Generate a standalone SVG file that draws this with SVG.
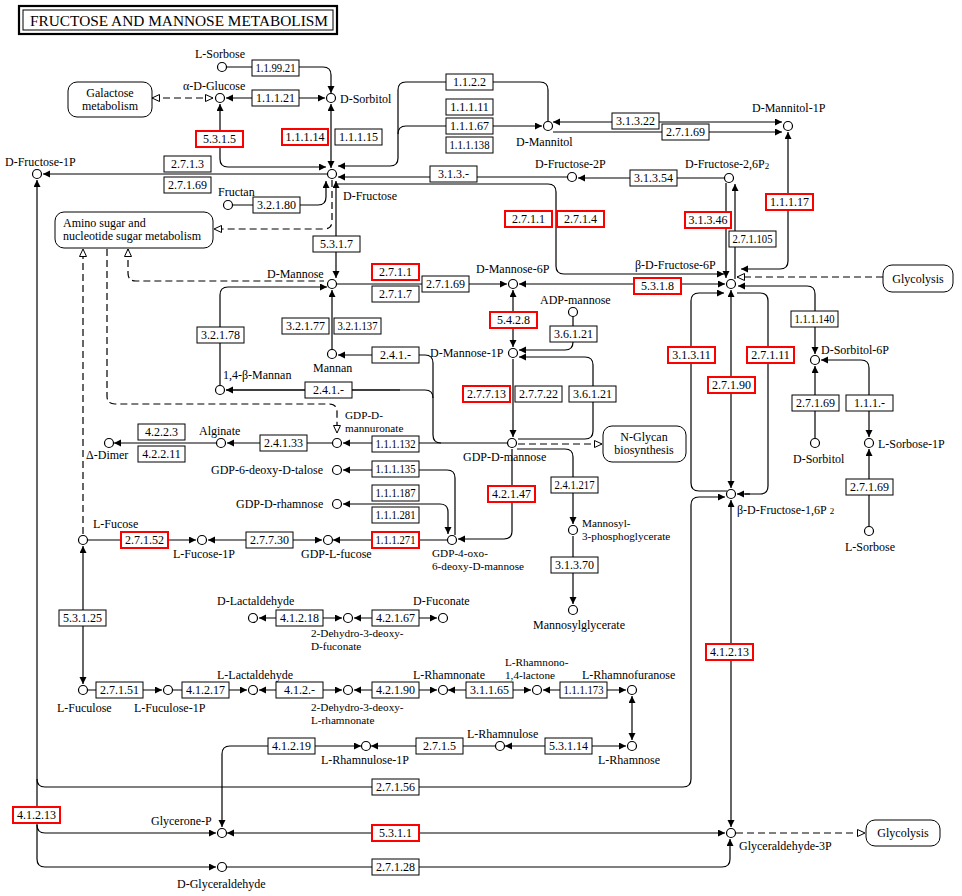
<svg xmlns="http://www.w3.org/2000/svg" width="962" height="896" viewBox="0 0 962 896">
<defs>
<marker id="a" markerWidth="8" markerHeight="8" refX="7" refY="3.5" orient="auto-start-reverse" markerUnits="userSpaceOnUse"><path d="M0,0 L7,3.5 L0,7 z" fill="#000"/></marker>
<marker id="h" markerWidth="10" markerHeight="9" refX="8" refY="4" orient="auto-start-reverse" markerUnits="userSpaceOnUse"><path d="M0.5,0.5 L8,4 L0.5,7.5 z" fill="#fff" stroke="#000" stroke-width="1"/></marker>
<style>
text{font-family:"Liberation Serif","Times New Roman",serif;font-size:12px;fill:#000}
.ml{font-size:11.2px}
.e rect{fill:#fff;stroke:#000;stroke-width:1}
.e.r rect{stroke:#f00;stroke-width:2}
.e text{text-anchor:middle}
.c circle{fill:#fff;stroke:#000;stroke-width:1.2}
.m rect{fill:#fff;stroke:#000;stroke-width:1}
.m text{text-anchor:middle}
#conn path{fill:none;stroke:#000;stroke-width:1.2}
#conn .d{stroke-dasharray:7,4}
.b{marker-start:url(#a);marker-end:url(#a)}
.f{marker-end:url(#a)}
.s{marker-start:url(#a)}
.hf{marker-end:url(#h)}
.hb{marker-start:url(#h);marker-end:url(#h)}
.hs{marker-start:url(#h)}
.sub{font-size:9px}
</style>
</defs>
<rect width="962" height="896" fill="#fff"/>
<g id="title">
<rect x="19" y="6" width="318" height="28" fill="none" stroke="#000" stroke-width="2.2"/>
<rect x="23" y="10" width="310" height="20" fill="none" stroke="#000" stroke-width="1"/>
<text x="30" y="26" style="font-size:15px" textLength="298" lengthAdjust="spacingAndGlyphs">FRUCTOSE AND MANNOSE METABOLISM</text>
</g>

<g id="conn">
<path class="f" d="M226.5,67 H323 Q331,67 331,75 V93"/>
<path class="b" d="M226,98 H325"/>
<path class="d hb" d="M152,98 H213"/>
<path class="b" d="M220,104 V159 Q220,167 228,167 H326"/>
<path class="f" d="M327,174 H43"/>
<path class="b" d="M331,104 V168"/>
<path class="s f" d="M37,180 V859 Q37,867 45,867 H216"/>
<path class="f" d="M37,825 Q37,833 45,833 H216"/>
<path class="f" d="M37,779 Q37,787 45,787 H683 Q691,787 691,779 V505 Q691,497 699,497 H725"/>
<path class="b" d="M227,833 H725"/>
<path class="f" d="M227,867 H722 Q730,867 730,859 V839"/>
<path class="b" d="M731,500 V827"/>
<path class="d hf" d="M736,833 H865"/>
<path class="b" d="M361,746 H230 Q222,746 222,754 V827"/>
<path class="f" d="M495,746 H371"/>
<path class="b" d="M505,746 H626"/>
<path class="b" d="M632,696 V740"/>
<path class="f" d="M88,690 H162"/>
<path class="f" d="M173,690 H247"/>
<path class="b" d="M259,690 H342"/>
<path class="b" d="M354,690 H437"/>
<path class="b" d="M448,690 H531"/>
<path class="b" d="M543,690 H626"/>
<path class="b" d="M259,618 H342"/>
<path class="b" d="M354,618 H437"/>
<path class="b" d="M83,546 V684"/>
<path class="d hf" d="M83,534 V249"/>
<path class="f" d="M88,540 H196"/>
<path class="b" d="M208,540 H322"/>
<path class="f" d="M447,540 H333"/>
<path class="f" d="M512,449 V531 Q512,539 504,539 H458"/>
<path class="f" d="M455,535 V478 Q455,470 447,470 H343"/>
<path class="b" d="M343,504 H440 Q448,504 448,512 V534"/>
<path class="f" d="M507,443 H343"/>
<path class="f" d="M441,443 Q433,443 433,435 V363 Q433,355 425,355 H338"/>
<path d="M433,398 Q433,390 425,390 H226"/>
<path class="f" d="M400,390 H226"/>
<path class="f" d="M332,443 H227"/>
<path class="f" d="M216,443 H114"/>
<path class="f" d="M332,349 V290"/>
<path class="f" d="M220,385 V295 Q220,287 228,287 H327"/>
<path class="d hs" d="M128,249 V273 Q128,281 136,281 H324"/>
<path class="d hf" d="M107,249 V396 Q107,404 115,404 H329 Q337,404 337,412 V433"/>
<path class="d hf" d="M332,180 V221 Q332,229 324,229 H214"/>
<path class="f" d="M233,205 H318 Q326,205 326,197 V181"/>
<path class="b" d="M336,181 V278"/>
<path class="f" d="M548,121 V90 Q548,82 540,82 H406 Q398,82 398,90 V158 Q398,166 390,166 H338"/>
<path class="f" d="M398,134 Q398,126 406,126 H542"/>
<path class="b" d="M553,122 H782"/>
<path class="f" d="M553,132 H782"/>
<path class="f" d="M567,177 H338"/>
<path class="f" d="M724,178 H578"/>
<path class="f" d="M337,184 H548 Q556,184 556,192 V266 Q556,274 564,274 H724"/>
<path class="b" d="M519,284 H725"/>
<path class="f" d="M726,183 V278"/>
<path class="f" d="M735,279 V184"/>
<path class="b" d="M741,269 H780 Q788,269 788,261 V132"/>
<path class="d hf" d="M883,277 H737"/>
<path class="b" d="M738,286 H807 Q815,286 815,294 V354"/>
<path class="f" d="M727,491 H699 Q691,491 691,483 V301 Q691,293 699,293 H724"/>
<path d="M737,293 H760 Q768,293 768,301 V486 Q768,494 760,494 H745"/>
<path class="f" d="M750,494 H737"/>
<path class="b" d="M731,290 V488"/>
<path class="f" d="M815,438 V366"/>
<path class="b" d="M821,360 H861 Q869,360 869,368 V437"/>
<path class="f" d="M869,526 V449"/>
<path class="f" d="M337,284 H507"/>
<path class="b" d="M513,290 V347"/>
<path class="f" d="M573,317 V342 Q573,350 565,350 H519"/>
<path class="f" d="M518,439 H585 Q593,439 593,431 V365 Q593,357 585,357 H519"/>
<path class="f" d="M513,359 V437"/>
<path class="d hf" d="M518,444 H602"/>
<path class="f" d="M517,449 H565 Q573,449 573,457 V524"/>
<path class="f" d="M573,536 V604"/>
</g>

<g id="maps">
<g id="map_galactose" class="m"><rect x="68" y="82" width="84" height="35" rx="9"/><text x="110" y="97">Galactose</text><text x="110" y="110">metabolism</text></g>
<g id="map_aminosugar" class="m"><rect x="55" y="212" width="158" height="36" rx="9"/><text x="63" y="227" style="text-anchor:start">Amino sugar and</text><text x="63" y="240" style="text-anchor:start">nucleotide sugar metabolism</text></g>
<g id="map_nglycan" class="m"><rect x="603" y="426" width="83" height="36" rx="9"/><text x="644" y="441">N-Glycan</text><text x="644" y="454">biosynthesis</text></g>
<g id="map_glycolysis1" class="m"><rect x="883" y="265" width="70" height="27" rx="9"/><text x="918" y="283">Glycolysis</text></g>
<g id="map_glycolysis2" class="m"><rect x="866" y="820" width="74" height="26" rx="9"/><text x="903" y="837">Glycolysis</text></g>
</g>

<g id="enzymes">
<g class="e"><rect x="252" y="60" width="47" height="16"/><text x="275.5" y="72" textLength="40" lengthAdjust="spacingAndGlyphs">1.1.99.21</text></g>
<g class="e"><rect x="252" y="90" width="47" height="16"/><text x="275.5" y="102">1.1.1.21</text></g>
<g class="e r"><rect x="196" y="131" width="47" height="16"/><text x="219.5" y="143">5.3.1.5</text></g>
<g class="e r"><rect x="282" y="129" width="46" height="16"/><text x="305" y="141">1.1.1.14</text></g>
<g class="e"><rect x="335" y="129" width="47" height="16"/><text x="358.5" y="141">1.1.1.15</text></g>
<g class="e"><rect x="164" y="156" width="47" height="16"/><text x="187.5" y="168">2.7.1.3</text></g>
<g class="e"><rect x="164" y="177" width="47" height="16"/><text x="187.5" y="189">2.7.1.69</text></g>
<g class="e"><rect x="253" y="197" width="47" height="16"/><text x="276.5" y="209">3.2.1.80</text></g>
<g class="e"><rect x="313" y="236" width="47" height="16"/><text x="336.5" y="248">5.3.1.7</text></g>
<g class="e"><rect x="446" y="74" width="47" height="16"/><text x="469.5" y="86">1.1.2.2</text></g>
<g class="e"><rect x="446" y="99" width="47" height="16"/><text x="469.5" y="111">1.1.1.11</text></g>
<g class="e"><rect x="446" y="118" width="47" height="16"/><text x="469.5" y="130">1.1.1.67</text></g>
<g class="e"><rect x="446" y="137" width="47" height="16"/><text x="469.5" y="149" textLength="40" lengthAdjust="spacingAndGlyphs">1.1.1.138</text></g>
<g class="e"><rect x="612" y="113" width="47" height="16"/><text x="635.5" y="125">3.1.3.22</text></g>
<g class="e"><rect x="662" y="124" width="47" height="16"/><text x="685.5" y="136">2.7.1.69</text></g>
<g class="e"><rect x="430" y="166" width="47" height="16"/><text x="453.5" y="178">3.1.3.-</text></g>
<g class="e"><rect x="630" y="170" width="47" height="16"/><text x="653.5" y="182">3.1.3.54</text></g>
<g class="e r"><rect x="505" y="211" width="47" height="16"/><text x="528.5" y="223">2.7.1.1</text></g>
<g class="e r"><rect x="557" y="211" width="47" height="16"/><text x="580.5" y="223">2.7.1.4</text></g>
<g class="e r"><rect x="685" y="212" width="46" height="16"/><text x="708" y="224">3.1.3.46</text></g>
<g class="e"><rect x="729" y="231" width="47" height="16"/><text x="752.5" y="243" textLength="40" lengthAdjust="spacingAndGlyphs">2.7.1.105</text></g>
<g class="e r"><rect x="766" y="194" width="47" height="16"/><text x="789.5" y="206">1.1.1.17</text></g>
<g class="e r"><rect x="372" y="264" width="47" height="16"/><text x="395.5" y="276">2.7.1.1</text></g>
<g class="e"><rect x="372" y="286" width="47" height="16"/><text x="395.5" y="298">2.7.1.7</text></g>
<g class="e"><rect x="422" y="276" width="47" height="16"/><text x="445.5" y="288">2.7.1.69</text></g>
<g class="e r"><rect x="634" y="278" width="47" height="16"/><text x="657.5" y="290">5.3.1.8</text></g>
<g class="e r"><rect x="490" y="312" width="47" height="16"/><text x="513.5" y="324">5.4.2.8</text></g>
<g class="e"><rect x="550" y="326" width="47" height="16"/><text x="573.5" y="338">3.6.1.21</text></g>
<g class="e"><rect x="197" y="327" width="47" height="16"/><text x="220.5" y="339">3.2.1.78</text></g>
<g class="e"><rect x="282" y="318" width="47" height="16"/><text x="305.5" y="330">3.2.1.77</text></g>
<g class="e"><rect x="334" y="318" width="47" height="16"/><text x="357.5" y="330" textLength="40" lengthAdjust="spacingAndGlyphs">3.2.1.137</text></g>
<g class="e"><rect x="372" y="347" width="47" height="16"/><text x="395.5" y="359">2.4.1.-</text></g>
<g class="e"><rect x="305" y="382" width="47" height="16"/><text x="328.5" y="394">2.4.1.-</text></g>
<g class="e r"><rect x="463" y="386" width="47" height="16"/><text x="486.5" y="398">2.7.7.13</text></g>
<g class="e"><rect x="515" y="386" width="47" height="16"/><text x="538.5" y="398">2.7.7.22</text></g>
<g class="e"><rect x="569" y="386" width="47" height="16"/><text x="592.5" y="398">3.6.1.21</text></g>
<g class="e r"><rect x="668" y="347" width="47" height="16"/><text x="691.5" y="359">3.1.3.11</text></g>
<g class="e r"><rect x="747" y="347" width="47" height="16"/><text x="770.5" y="359">2.7.1.11</text></g>
<g class="e r"><rect x="708" y="377" width="47" height="16"/><text x="731.5" y="389">2.7.1.90</text></g>
<g class="e"><rect x="791" y="311" width="47" height="16"/><text x="814.5" y="323" textLength="40" lengthAdjust="spacingAndGlyphs">1.1.1.140</text></g>
<g class="e"><rect x="792" y="395" width="47" height="16"/><text x="815.5" y="407">2.7.1.69</text></g>
<g class="e"><rect x="846" y="395" width="47" height="16"/><text x="869.5" y="407">1.1.1.-</text></g>
<g class="e"><rect x="846" y="479" width="47" height="16"/><text x="869.5" y="491">2.7.1.69</text></g>
<g class="e"><rect x="138" y="424" width="47" height="16"/><text x="161.5" y="436">4.2.2.3</text></g>
<g class="e"><rect x="138" y="446" width="47" height="16"/><text x="161.5" y="458">4.2.2.11</text></g>
<g class="e"><rect x="260" y="435" width="47" height="16"/><text x="283.5" y="447">2.4.1.33</text></g>
<g class="e"><rect x="372" y="436" width="47" height="16"/><text x="395.5" y="448" textLength="40" lengthAdjust="spacingAndGlyphs">1.1.1.132</text></g>
<g class="e"><rect x="372" y="461" width="47" height="16"/><text x="395.5" y="473" textLength="40" lengthAdjust="spacingAndGlyphs">1.1.1.135</text></g>
<g class="e"><rect x="372" y="485" width="47" height="16"/><text x="395.5" y="497" textLength="40" lengthAdjust="spacingAndGlyphs">1.1.1.187</text></g>
<g class="e"><rect x="372" y="507" width="47" height="16"/><text x="395.5" y="519" textLength="40" lengthAdjust="spacingAndGlyphs">1.1.1.281</text></g>
<g class="e r"><rect x="372" y="532" width="47" height="16"/><text x="395.5" y="544" textLength="40" lengthAdjust="spacingAndGlyphs">1.1.1.271</text></g>
<g class="e r"><rect x="121" y="532" width="47" height="16"/><text x="144.5" y="544">2.7.1.52</text></g>
<g class="e"><rect x="246" y="532" width="47" height="16"/><text x="269.5" y="544">2.7.7.30</text></g>
<g class="e r"><rect x="488" y="486" width="47" height="16"/><text x="511.5" y="498">4.2.1.47</text></g>
<g class="e"><rect x="551" y="477" width="47" height="16"/><text x="574.5" y="489" textLength="40" lengthAdjust="spacingAndGlyphs">2.4.1.217</text></g>
<g class="e"><rect x="551" y="557" width="47" height="16"/><text x="574.5" y="569">3.1.3.70</text></g>
<g class="e"><rect x="59" y="610" width="47" height="16"/><text x="82.5" y="622">5.3.1.25</text></g>
<g class="e"><rect x="276" y="610" width="47" height="16"/><text x="299.5" y="622">4.1.2.18</text></g>
<g class="e"><rect x="372" y="610" width="47" height="16"/><text x="395.5" y="622">4.2.1.67</text></g>
<g class="e"><rect x="96" y="682" width="47" height="16"/><text x="119.5" y="694">2.7.1.51</text></g>
<g class="e"><rect x="182" y="682" width="47" height="16"/><text x="205.5" y="694">4.1.2.17</text></g>
<g class="e"><rect x="276" y="682" width="47" height="16"/><text x="299.5" y="694">4.1.2.-</text></g>
<g class="e"><rect x="372" y="682" width="47" height="16"/><text x="395.5" y="694">4.2.1.90</text></g>
<g class="e"><rect x="466" y="682" width="47" height="16"/><text x="489.5" y="694">3.1.1.65</text></g>
<g class="e"><rect x="560" y="682" width="47" height="16"/><text x="583.5" y="694" textLength="40" lengthAdjust="spacingAndGlyphs">1.1.1.173</text></g>
<g class="e"><rect x="268" y="738" width="47" height="16"/><text x="291.5" y="750">4.1.2.19</text></g>
<g class="e"><rect x="416" y="738" width="47" height="16"/><text x="439.5" y="750">2.7.1.5</text></g>
<g class="e"><rect x="545" y="738" width="47" height="16"/><text x="568.5" y="750">5.3.1.14</text></g>
<g class="e"><rect x="372" y="779" width="47" height="16"/><text x="395.5" y="791">2.7.1.56</text></g>
<g class="e r"><rect x="13" y="807" width="47" height="16"/><text x="36.5" y="819">4.1.2.13</text></g>
<g class="e r"><rect x="372" y="825" width="47" height="16"/><text x="395.5" y="837">5.3.1.1</text></g>
<g class="e"><rect x="372" y="859" width="47" height="16"/><text x="395.5" y="871">2.7.1.28</text></g>
<g class="e r"><rect x="706" y="644" width="47" height="16"/><text x="729.5" y="656">4.1.2.13</text></g>
</g>

<g id="compounds">
<g id="c_lsorbose" class="c"><circle cx="222" cy="67" r="4.5"/><text x="195" y="58">L-Sorbose</text></g>
<g id="c_aglucose" class="c"><circle cx="220" cy="98" r="4.5"/><text x="183" y="90">α-D-Glucose</text></g>
<g id="c_dsorbitol" class="c"><circle cx="331" cy="98" r="4.5"/><text x="340" y="103">D-Sorbitol</text></g>
<g id="c_dfructose" class="c"><circle cx="332" cy="174" r="4.5"/><text x="343" y="200">D-Fructose</text></g>
<g id="c_dfructose1p" class="c"><circle cx="37" cy="174" r="4.5"/><text x="5" y="166">D-Fructose-1P</text></g>
<g id="c_fructan" class="c"><circle cx="228" cy="205" r="4.5"/><text x="218" y="196">Fructan</text></g>
<g id="c_dmannitol" class="c"><circle cx="548" cy="126" r="4.5"/><text x="516" y="146">D-Mannitol</text></g>
<g id="c_dmannitol1p" class="c"><circle cx="788" cy="126" r="4.5"/><text x="752" y="112">D-Mannitol-1P</text></g>
<g id="c_dfructose2p" class="c"><circle cx="572" cy="177" r="4.5"/><text x="535" y="168">D-Fructose-2P</text></g>
<g id="c_dfructose26p2" class="c"><circle cx="729" cy="178" r="4.5"/><text x="685" y="168">D-Fructose-2,6P<tspan class="sub" dy="1">2</tspan></text></g>
<g id="c_bdf6p" class="c"><circle cx="731" cy="284" r="4.5"/><text x="635" y="269">β-D-Fructose-6P</text></g>
<g id="c_dmannose" class="c"><circle cx="332" cy="284" r="4.5"/><text x="267" y="278">D-Mannose</text></g>
<g id="c_dmannose6p" class="c"><circle cx="513" cy="284" r="4.5"/><text x="476" y="273">D-Mannose-6P</text></g>
<g id="c_adpmannose" class="c"><circle cx="573" cy="312" r="4.5"/><text x="540" y="304">ADP-mannose</text></g>
<g id="c_dmannose1p" class="c"><circle cx="513" cy="353" r="4.5"/><text x="430" y="357">D-Mannose-1P</text></g>
<g id="c_mannan" class="c"><circle cx="332" cy="354" r="4.5"/><text x="313" y="372">Mannan</text></g>
<g id="c_14bmannan" class="c"><circle cx="220" cy="390" r="4.5"/><text x="223" y="379">1,4-β-Mannan</text></g>
<g id="c_gdpmannuronate" class="c"><circle cx="337" cy="443" r="4.5"/><text class="ml" x="345" y="419">GDP-D-</text><text class="ml" x="345" y="432">mannuronate</text></g>
<g id="c_alginate" class="c"><circle cx="221" cy="443" r="4.5"/><text x="199" y="435">Alginate</text></g>
<g id="c_ddimer" class="c"><circle cx="109" cy="443" r="4.5"/><text x="86" y="459">Δ-Dimer</text></g>
<g id="c_gdpmannose" class="c"><circle cx="512" cy="443" r="4.5"/><text x="463" y="461">GDP-D-mannose</text></g>
<g id="c_gdp6deoxytalose" class="c"><circle cx="337" cy="470" r="4.5"/><text x="211" y="474">GDP-6-deoxy-D-talose</text></g>
<g id="c_gdprhamnose" class="c"><circle cx="337" cy="504" r="4.5"/><text x="236" y="508">GDP-D-rhamnose</text></g>
<g id="c_lfucose" class="c"><circle cx="83" cy="540" r="4.5"/><text x="93" y="528">L-Fucose</text></g>
<g id="c_lfucose1p" class="c"><circle cx="202" cy="540" r="4.5"/><text x="173" y="558">L-Fucose-1P</text></g>
<g id="c_gdplfucose" class="c"><circle cx="328" cy="540" r="4.5"/><text x="301" y="558">GDP-L-fucose</text></g>
<g id="c_gdp4oxo" class="c"><circle cx="452" cy="540" r="4.5"/><text class="ml" x="432" y="557">GDP-4-oxo-</text><text class="ml" x="432" y="570">6-deoxy-D-mannose</text></g>
<g id="c_mannosyl3pg" class="c"><circle cx="573" cy="530" r="4.5"/><text class="ml" x="582" y="527">Mannosyl-</text><text class="ml" x="582" y="540">3-phosphoglycerate</text></g>
<g id="c_mannosylglycerate" class="c"><circle cx="573" cy="610" r="4.5"/><text x="533" y="629">Mannosylglycerate</text></g>
<g id="c_dlactaldehyde" class="c"><circle cx="253" cy="618" r="4.5"/><text x="217" y="605">D-Lactaldehyde</text></g>
<g id="c_dehydrofuconate" class="c"><circle cx="348" cy="618" r="4.5"/><text class="ml" x="311" y="637">2-Dehydro-3-deoxy-</text><text class="ml" x="311" y="650">D-fuconate</text></g>
<g id="c_dfuconate" class="c"><circle cx="443" cy="618" r="4.5"/><text x="413" y="605">D-Fuconate</text></g>
<g id="c_lfuculose" class="c"><circle cx="83" cy="690" r="4.5"/><text x="57" y="712">L-Fuculose</text></g>
<g id="c_lfuculose1p" class="c"><circle cx="168" cy="690" r="4.5"/><text x="134" y="712">L-Fuculose-1P</text></g>
<g id="c_llactaldehyde" class="c"><circle cx="253" cy="690" r="4.5"/><text x="217" y="679">L-Lactaldehyde</text></g>
<g id="c_dehydrorhamnonate" class="c"><circle cx="348" cy="690" r="4.5"/><text class="ml" x="311" y="711">2-Dehydro-3-deoxy-</text><text class="ml" x="311" y="724">L-rhamnonate</text></g>
<g id="c_lrhamnonate" class="c"><circle cx="443" cy="690" r="4.5"/><text x="413" y="679">L-Rhamnonate</text></g>
<g id="c_lrhamnonolactone" class="c"><circle cx="537" cy="690" r="4.5"/><text class="ml" x="505" y="666">L-Rhamnono-</text><text class="ml" x="505" y="679">1,4-lactone</text></g>
<g id="c_lrhamnofuranose" class="c"><circle cx="632" cy="690" r="4.5"/><text x="582" y="679">L-Rhamnofuranose</text></g>
<g id="c_lrhamnulose" class="c"><circle cx="500" cy="746" r="4.5"/><text x="467" y="738">L-Rhamnulose</text></g>
<g id="c_lrhamnulose1p" class="c"><circle cx="366" cy="746" r="4.5"/><text x="321" y="764">L-Rhamnulose-1P</text></g>
<g id="c_lrhamnose" class="c"><circle cx="632" cy="746" r="4.5"/><text x="598" y="764">L-Rhamnose</text></g>
<g id="c_glyceronep" class="c"><circle cx="222" cy="833" r="4.5"/><text x="151" y="825">Glycerone-P</text></g>
<g id="c_dglyceraldehyde" class="c"><circle cx="222" cy="867" r="4.5"/><text x="177" y="888">D-Glyceraldehyde</text></g>
<g id="c_glyceraldehyde3p" class="c"><circle cx="731" cy="833" r="4.5"/><text x="739" y="850">Glyceraldehyde-3P</text></g>
<g id="c_bdf16p2" class="c"><circle cx="731" cy="494" r="4.5"/><text x="737" y="514">β-D-Fructose-1,6P<tspan class="sub" dx="3">2</tspan></text></g>
<g id="c_dsorbitol6p" class="c"><circle cx="815" cy="360" r="4.5"/><text x="821" y="354">D-Sorbitol-6P</text></g>
<g id="c_dsorbitol2" class="c"><circle cx="815" cy="443" r="4.5"/><text x="793" y="463">D-Sorbitol</text></g>
<g id="c_lsorbose1p" class="c"><circle cx="869" cy="443" r="4.5"/><text x="878" y="448">L-Sorbose-1P</text></g>
<g id="c_lsorbose2" class="c"><circle cx="869" cy="531" r="4.5"/><text x="845" y="551">L-Sorbose</text></g>
</g>
</svg>
